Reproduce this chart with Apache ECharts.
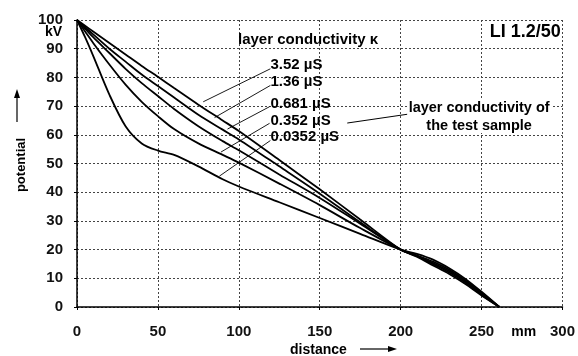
<!DOCTYPE html>
<html><head><meta charset="utf-8">
<script src="https://cdn.jsdelivr.net/npm/echarts@6/dist/echarts.min.js"></script>
<style>html,body{margin:0;padding:0;background:#fff}#c{width:578px;height:356px}</style>
</head><body><div id="c"></div>
<script>
const distance = [0, 5, 10, 20, 30, 40, 50, 60, 75, 90, 100, 125, 150, 175, 200, 210, 220, 230, 240, 250, 261];
const k352 =  [100, 98, 96, 92, 88, 84, 80.2, 76.3, 70.5, 65, 61.3, 51.2, 41, 30.5, 20, 17.5, 14.5, 11.5, 8, 4, 0];
const k136 =  [100, 97.5, 95, 90, 85.5, 81, 77, 73, 67, 61.8, 58.4, 49, 39.5, 29.5, 20, 17.7, 15, 12, 8.5, 4.3, 0];
const k0681 = [100, 97, 94, 88.5, 83, 78, 73.5, 69, 63, 57.8, 54.6, 46.2, 38, 29, 20, 17.8, 15.3, 12.5, 9, 4.6, 0];
const k0352 = [100, 96, 92, 84.5, 77.5, 71.5, 66.5, 62, 57, 53, 50.3, 43, 35.5, 27.5, 20, 18, 15.8, 13, 9.3, 5, 0];
const k00352 = [100, 94, 87.5, 74, 63, 57, 54.5, 53, 49, 44.5, 42, 36.5, 31, 25.5, 20, 18.5, 16.5, 13.5, 9.8, 5.3, 0];
const seriesNames = ['3.52 µS', '1.36 µS', '0.681 µS', '0.352 µS', '0.0352 µS'];
const seriesValues = [k352, k136, k0681, k0352, k00352];
const xTicks = [0, 50, 100, 150, 200, 250, 300];
const yTicks = [0, 10, 20, 30, 40, 50, 60, 70, 80, 90, 100];
// annotation anchors in data coordinates
const labelPos = [[119.5, 84.3], [119.5, 78.4], [119.5, 70.9], [119.5, 65.0], [119.5, 59.2]];
const leaders = [
  [[119.5, 83.0], [78, 71.5]],
  [[119.5, 77.2], [85, 66]],
  [[119, 69.8], [93, 62]],
  [[119, 64.0], [89, 54]],
  [[119.5, 58.0], [88, 45.6]]
];
const sampleLeader = [[167, 64.1], [209.5, 67.6]];

const FONT = 'Liberation Sans';
const F = (s) => 'bold ' + s + 'px "' + FONT + '"';
const chart = echarts.init(document.getElementById('c'), null, {renderer: 'canvas'});
const grid = {left: 77, right: 14, top: 20, bottom: 49};
chart.setOption({
  animation: false,
  grid: grid,
  xAxis: {
    type: 'value', min: 0, max: 300, interval: 50,
    axisLine: {show: true, onZero: false, lineStyle: {color: '#000', width: 1.5}},
    axisTick: {show: true, length: 3, inside: false, lineStyle: {color: '#000'}},
    axisLabel: {color: '#111', fontFamily: FONT, fontSize: 15, fontWeight: 'bold', margin: 17,
      formatter: v => xTicks.includes(v) ? String(v) : ''},
    splitLine: {show: true, lineStyle: {type: [2, 2], color: '#444', width: 1}}
  },
  yAxis: {
    type: 'value', min: 0, max: 100, interval: 10,
    axisLine: {show: true, onZero: false, lineStyle: {color: '#000', width: 1.5}},
    axisTick: {show: true, length: 3, lineStyle: {color: '#000'}},
    axisLabel: {color: '#111', fontFamily: FONT, fontSize: 15, fontWeight: 'bold', margin: 14,
      formatter: v => yTicks.includes(v) ? String(v) : ''},
    splitLine: {show: true, lineStyle: {type: [2, 2], color: '#444', width: 1}}
  },
  series: seriesValues.map((vals, i) => ({
    name: seriesNames[i], type: 'line', smooth: 0.3, symbol: 'none',
    lineStyle: {color: '#000', width: 1.8},
    data: distance.map((d, j) => [d, vals[j]])
  }))
});

const P = (pt) => chart.convertToPixel({gridIndex: 0}, pt);
const txt = (x, y, s, opt) => ({
  type: 'text', x: x, y: y,
  style: Object.assign({text: s, fill: '#000', font: F(12), textVerticalAlign: 'middle'}, opt || {})
});
const g = [];
const p100 = P([0, 100]);
g.push(txt(p100[0] - 15, p100[1] + 12, 'kV', {textAlign: 'right', font: F(14)}));
const pmm = P([276, 0]);
g.push(txt(pmm[0], pmm[1] + 25, 'mm', {textAlign: 'center', font: F(14)}));
g.push(txt(290, 350, 'distance', {textAlign: 'left', font: F(14)}));
g.push({type: 'line', shape: {x1: 360, y1: 349, x2: 390, y2: 349}, style: {stroke: '#000', lineWidth: 1.2}});
g.push({type: 'polygon', shape: {points: [[397, 349], [388, 346], [388, 352]]}, style: {fill: '#000'}});
g.push({type: 'text', x: 21, y: 165, rotation: Math.PI / 2,
  style: {text: 'potential', fill: '#000', font: F(13), textAlign: 'center', textVerticalAlign: 'middle'}});
g.push({type: 'line', shape: {x1: 17, y1: 122, x2: 17, y2: 96}, style: {stroke: '#000', lineWidth: 1.2}});
g.push({type: 'polygon', shape: {points: [[17, 89], [14, 98], [20, 98]]}, style: {fill: '#000'}});
const pt = P([99.5, 93]);
g.push(txt(pt[0], pt[1], 'layer conductivity κ', {textAlign: 'left', font: F(15)}));
const pli = P([299, 95.8]);
g.push(txt(pli[0], pli[1], 'LI 1.2/50', {textAlign: 'right', font: F(18)}));
seriesNames.forEach((n, i) => {
  const p = P(labelPos[i]);
  g.push(txt(p[0], p[1], n, {textAlign: 'left', font: F(15)}));
  const a = P(leaders[i][0]), b = P(leaders[i][1]);
  g.push({type: 'line', shape: {x1: a[0], y1: a[1], x2: b[0], y2: b[1]}, style: {stroke: '#000', lineWidth: 0.9}});
});
const sa = P(sampleLeader[0]), sb = P(sampleLeader[1]);
g.push({type: 'line', shape: {x1: sa[0], y1: sa[1], x2: sb[0], y2: sb[1]}, style: {stroke: '#000', lineWidth: 1}});
const ps1 = P([248.5, 69.3]), ps2 = P([248.5, 63]);
g.push({type: 'rect', shape: {x: ps1[0] - 72, y: ps1[1] - 9, width: 144, height: 34}, style: {fill: '#fff'}});
g.push(txt(ps1[0], ps1[1], 'layer conductivity of', {textAlign: 'center', font: F(14.5)}));
g.push(txt(ps2[0], ps2[1], 'the test sample', {textAlign: 'center', font: F(14.5)}));
chart.setOption({graphic: g});
</script></body></html>
